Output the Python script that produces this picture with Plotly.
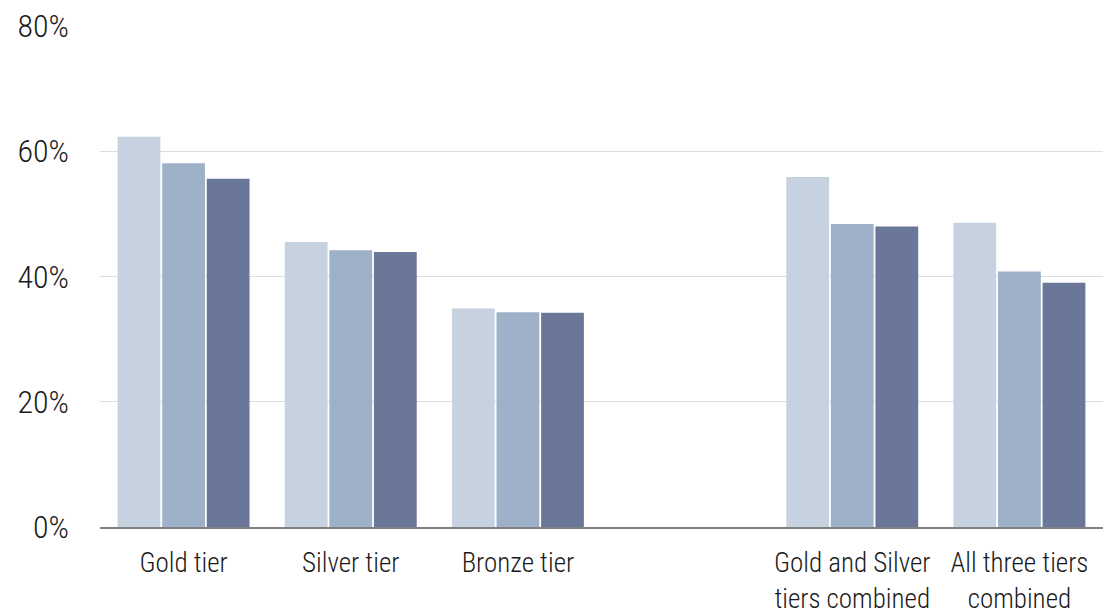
import plotly.graph_objects as go

categories = [
    "Gold tier",
    "Silver tier",
    "Bronze tier",
    " ",
    "Gold and Silver<br>tiers combined",
    "All three tiers<br>combined",
]

series_a = [62.3, 45.5, 34.9, None, 55.9, 48.6]
series_b = [58.1, 44.2, 34.3, None, 48.4, 40.8]
series_c = [55.6, 43.9, 34.2, None, 48.0, 39.0]

y_ticks = [0, 20, 40, 60, 80]
y_tick_labels = ["0%", "20%", "40%", "60%", "80%"]

colors = ["#c6d2e0", "#9eb1c9", "#6a7798"]
font_family = "Roboto Condensed, Liberation Sans Narrow, sans-serif"

fig = go.Figure()
for name, vals, col in zip(["A", "B", "C"], [series_a, series_b, series_c], colors):
    fig.add_trace(go.Bar(
        x=categories,
        y=vals,
        name=name,
        marker=dict(color=col, line=dict(width=0)),
        hoverinfo="skip",
    ))

fig.update_layout(
    width=1118,
    height=615,
    margin=dict(l=100, r=15, t=26, b=88),
    paper_bgcolor="white",
    plot_bgcolor="white",
    barmode="group",
    bargap=0.2,
    bargroupgap=0.04,
    showlegend=False,
    font=dict(family=font_family, size=27, color="#1a1a1a", weight=300),
)

fig.update_xaxes(
    type="category",
    categoryorder="array",
    categoryarray=categories,
    showgrid=False,
    showline=True,
    linecolor="#808080",
    linewidth=2,
    ticks="",
    tickangle=0,
    automargin=False,
    tickfont=dict(family=font_family, size=27, color="#1a1a1a", weight=300),
    ticklabelstandoff=11,
)

fig.update_yaxes(
    range=[0, 80],
    tickmode="array",
    tickvals=y_ticks,
    ticktext=y_tick_labels,
    showgrid=True,
    gridcolor="#dedede",
    gridwidth=1,
    zeroline=False,
    showline=False,
    ticks="",
    automargin=False,
    tickfont=dict(family=font_family, size=32, color="#1a1a1a", weight=300),
    ticklabelstandoff=30,
)

fig.write_html("out.html")
